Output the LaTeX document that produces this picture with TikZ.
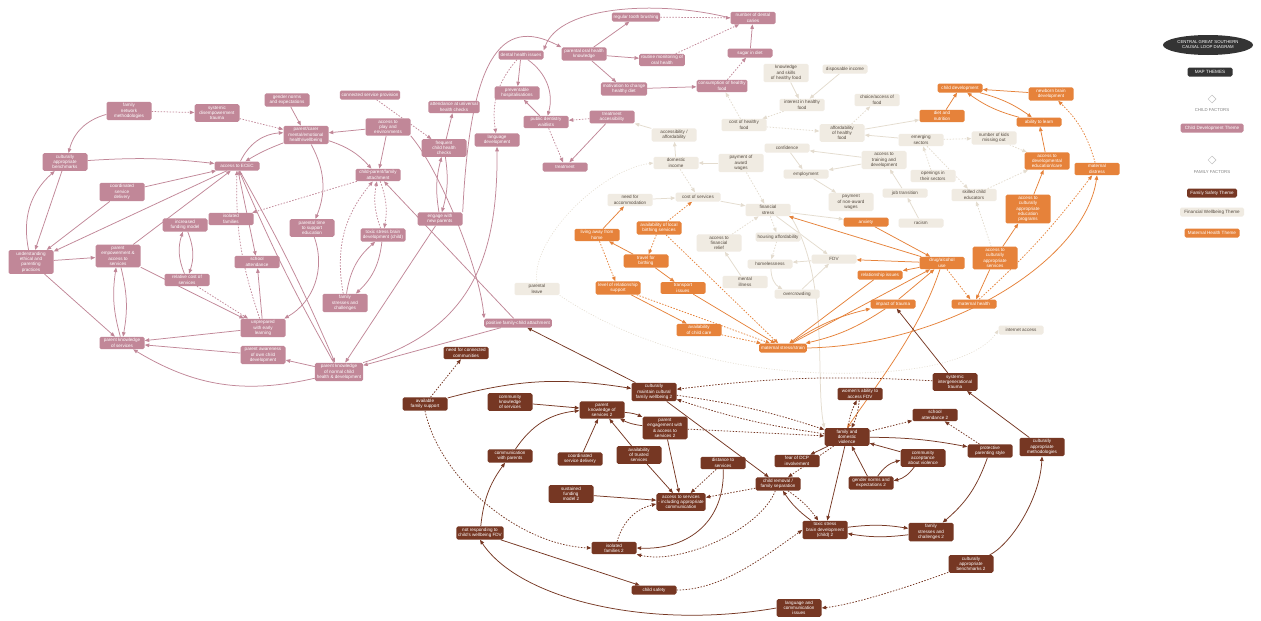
\documentclass[tikz,border=0pt]{standalone}
\usepackage{fontspec}
\setmainfont{Liberation Sans}
\usetikzlibrary{arrows.meta,shapes.geometric}
\pgfdeclarelayer{background}
\pgfsetlayers{background,main}
\definecolor{pinkc}{RGB}{193,135,152}
\definecolor{brownc}{RGB}{118,55,35}
\definecolor{orangec}{RGB}{230,130,58}
\definecolor{beigec}{RGB}{240,235,226}
\definecolor{beigetext}{RGB}{85,75,65}
\definecolor{beigeline}{RGB}{228,220,207}
\definecolor{legdark}{RGB}{52,52,52}
\tikzset{
  box/.style={rectangle, rounded corners=1.6pt, align=center, inner sep=1.8pt,
    minimum width=45pt, minimum height=9pt, font=\fontsize{4.6}{5.3}\selectfont},
  pk/.style={box, fill=pinkc, text=white},
  bg/.style={box, fill=beigec, text=beigetext},
  orn/.style={box, fill=orangec, text=white},
  br/.style={box, fill=brownc, text=white},
  ln/.style={line width=0.75pt, -{Triangle[length=4.5pt,width=3.6pt]}},
  dsh/.style={dash pattern=on 1.5pt off 1.5pt},
  faint/.style={line width=0.6pt, beigeline, dash pattern=on 1pt off 1.6pt, -{Triangle[length=4pt,width=3.2pt]}},
  pkl/.style={ln, pinkc},
  bgl/.style={ln, beigeline},
  orl/.style={ln, orangec},
  brl/.style={ln, brownc},
  leglabel/.style={font=\fontsize{4.3}{5}\selectfont, text=gray},
}
\begin{document}
\begin{tikzpicture}[x=1pt,y=-1pt]
\path[use as bounding box] (0,0) rectangle (1261,621);
\begin{pgfonlayer}{background}
\fill[white] (0,0) rectangle (1261,621);
\end{pgfonlayer}

% ---------- child development theme ----------
\node[pk] (fnm) at (129,111) {family\\network\\methodologies};
\node[pk] (sdt) at (217,113) {systemic\\disempowerment\\trauma};
\node[pk] (gne) at (287,100) {gender norms\\and expectations};
\node[pk] (pmh) at (306,135) {parent/carer\\mental/emotional\\health/wellbeing};
\node[pk] (cab) at (65,162) {culturally\\appropriate\\benchmarks};
\node[pk] (ecec) at (237,166) {access to ECEC};
\node[pk] (csd) at (122,192) {coordinated\\service\\delivery};
\node[pk] (iso) at (231,219) {isolated\\families};
\node[pk] (ifm) at (185,225) {increased\\funding model};
\node[pk] (uep) at (31,262) {understanding\\ethical and\\parenting\\practices};
\node[pk] (pea) at (118,256) {parent\\empowerment \&\\access to\\services};
\node[pk] (sch) at (257,262) {school\\attendance};
\node[pk] (rcs) at (187,280) {relative cost of\\services};
\node[pk] (pts) at (312,228) {parental time\\to support\\education};
\node[pk] (csp) at (370,95) {connected service provision};
\node[pk] (ape) at (388,127) {access to\\play and\\environments};
\node[pk] (cpa) at (378,175) {child-parent/family\\attachment};
\node[pk] (auh) at (454,107) {attendance at universal\\health checks};
\node[pk] (fch) at (444,148) {frequent\\child health\\checks};
\node[pk] (enp) at (440,219) {engage with\\new parents};
\node[pk] (lang) at (497,140) {language\\development};
\node[pk] (tsb) at (383,235) {toxic stress brain\\development (child)};
\node[pk] (fsc) at (345,303) {family\\stresses and\\challenges};
\node[pk] (uel) at (263,328) {unprepared\\with early\\learning};
\node[pk] (pks) at (122,343) {parent knowledge\\of services};
\node[pk] (pao) at (263,355) {parent awareness\\of own child\\development};
\node[pk] (pkn) at (339,372) {parent knowledge\\of normal child\\health \& development};
\node[pk] (rtb) at (636,17) {regular tooth brushing};
\node[pk] (ndc) at (753,18) {number of dental\\caries};
\node[pk] (dhi) at (521,55) {dental health issues};
\node[pk] (pohk) at (584,54) {parental oral health\\knowledge};
\node[pk] (rmo) at (662,60) {routine monitoring of\\oral health};
\node[pk] (sug) at (750,53) {sugar in diet};
\node[pk] (mcd) at (624,89) {motivation to change\\healthy diet};
\node[pk] (chf) at (722,86) {consumption of healthy\\food};
\node[pk] (phos) at (517,93) {preventable\\hospitalisations};
\node[pk] (pdw) at (546,122) {public dentistry\\waitlists};
\node[pk] (tacc) at (612,117) {treatment\\accessibility};
\node[pk] (treat) at (565,167) {treatment};
\node[pk] (pfca) at (518,323) {positive family-child attachment};

% ---------- financial wellbeing theme ----------
\node[bg] (afd) at (674,135) {accessibility /\\affordability};
\node[bg] (dinc) at (676,163) {domestic\\income};
\node[bg] (paw) at (741,163) {payment of\\award\\wages};
\node[bg] (ksh) at (786,73) {knowledge\\and skills\\of healthy food};
\node[bg] (dsi) at (845,69) {disposable income};
\node[bg] (ihf) at (802,105) {interest in healthy\\food};
\node[bg] (cof) at (877,100) {choice/access of\\food};
\node[bg] (cohf) at (744,125) {cost of healthy\\food};
\node[bg] (ahf) at (842,133) {affordability\\of healthy\\food};
\node[bg] (conf) at (787,148) {confidence};
\node[bg] (empl) at (806,174) {employment};
\node[bg] (atd) at (884,160) {access to\\training and\\development};
\node[bg] (emg) at (921,140) {emerging\\sectors};
\node[bg] (pnaw) at (851,202) {payment\\of non-award\\wages};
\node[bg] (opn) at (933,176) {openings in\\their sectors};
\node[bg] (jtr) at (905,193) {job transition};
\node[bg] (rac) at (921,223) {racism};
\node[bg] (fstr) at (768,210) {financial\\stress};
\node[bg] (nfa) at (630,200) {need for\\accommodation};
\node[bg] (cos) at (698,197) {cost of services};
\node[bg] (afr) at (719,243) {access to\\financial\\relief};
\node[bg] (hous) at (778,237) {housing affordability};
\node[bg] (fdvb) at (834,259) {FDV};
\node[bg] (hml) at (770,264) {homelessness};
\node[bg] (mill) at (745,282) {mental\\illness};
\node[bg] (ovc) at (797,294) {overcrowding};
\node[bg] (nkm) at (994,138) {number of kids\\missing out};
\node[bg] (sce) at (974,195) {skilled child\\educators};
\node[bg] (plv) at (537,289) {parental\\leave};
\node[bg] (inet) at (1021,330) {internet access};

% ---------- maternal health theme ----------
\node[orn] (cdev) at (960,88) {child development};
\node[orn] (nbd) at (1051,94) {newborn brain\\development};
\node[orn] (dn) at (942,116) {diet and\\nutrition};
\node[orn] (abl) at (1039,122) {ability to learn};
\node[orn] (adc) at (1047,161) {access to\\developmental\\education/care};
\node[orn] (mdis) at (1097,169) {maternal\\distress};
\node[orn] (acae) at (1028,209) {access to\\culturally\\appropriate\\education\\programs};
\node[orn] (acs) at (995,258) {access to\\culturally\\appropriate\\services};
\node[orn] (drug) at (942,263) {drug/alcohol\\use};
\node[orn] (mh) at (974,304) {maternal health};
\node[orn] (imp) at (893,304) {impact of trauma};
\node[orn] (rel) at (880,275) {relationship issues};
\node[orn] (anx) at (866,222) {anxiety};
\node[orn] (mstr) at (783,348) {maternal stress/strain};
\node[orn] (avcc) at (699,330) {availability\\of child care};
\node[orn] (tri) at (683,288) {transport\\issues};
\node[orn] (lrs) at (618,288) {level of relationship\\support};
\node[orn] (tfb) at (646,261) {travel for\\birthing};
\node[orn] (lafh) at (597,235) {living away from\\home};
\node[orn] (albs) at (659,228) {availability of local\\birthing services};

% ---------- family safety theme ----------
\node[br] (ncc) at (466,353) {need for connected\\communities};
\node[br] (afs) at (425,404) {available\\family support};
\node[br] (cmcw) at (654,392) {culturally\\maintain cultural\\family wellbeing 2};
\node[br] (cks) at (510,402) {community\\knowledge\\of services};
\node[br] (pks2) at (602,410) {parent\\knowledge of\\services 2};
\node[br] (pe2) at (665,428) {parent\\engagement with\\\& access to\\services 2};
\node[br] (comm) at (510,456) {communication\\with parents};
\node[br] (csd2) at (580,459) {coordinated\\service delivery};
\node[br] (ats) at (639,455) {availability\\of trusted\\services};
\node[br] (sfm) at (571,494) {sustained\\funding\\model 2};
\node[br] (acc) at (681,502) {access to services\\- including appropriate\\communication};
\node[br] (dts) at (723,463) {distance to\\services};
\node[br] (sit) at (955,382) {systemic\\intergenerational\\trauma};
\node[br] (wafdv) at (860,394) {women's ability to\\access FDV};
\node[br] (sa2) at (935,415) {school\\attendance 2};
\node[br] (fdv) at (847,437) {family and\\domestic\\violence};
\node[br] (pps) at (990,451) {protective\\parenting style};
\node[br] (cam) at (1042,447) {culturally\\appropriate\\methodologies};
\node[br] (fear) at (797,461) {fear of DCP\\involvement};
\node[br] (cav) at (923,458) {community\\acceptance\\about violence};
\node[br] (gne2) at (871,483) {gender norms and\\expectations 2};
\node[br] (crm) at (778,484) {child removal /\\family separation};
\node[br] (tsb2) at (825,530) {toxic stress\\brain development\\(child) 2};
\node[br] (fsc2) at (931,532) {family\\stresses and\\challenges 2};
\node[br] (cab2) at (971,564) {culturally\\appropriate\\benchmarks 2};
\node[br] (cs) at (654,590) {child safety};
\node[br] (isof2) at (614,548) {isolated\\families 2};
\node[br] (nrc) at (480,533) {not responding to\\child's wellbeing FDV};
\node[br] (lcs) at (799,608) {language and\\communication\\issues};

% ---------- legend ----------
\node[ellipse, fill=legdark, text=white, minimum width=90pt, minimum height=20pt,
  inner sep=0pt, align=center, font=\fontsize{4.3}{5}\selectfont] (ttl) at (1208,45)
  {CENTRAL GREAT SOUTHERN\\CAUSAL LOOP DIAGRAM};
\node[box, fill=legdark, text=white] (mth) at (1210,72) {MAP THEMES};
\node[diamond, draw=gray!50, line width=0.5pt, minimum size=8pt, inner sep=0pt] (dch) at (1212,99) {};
\node[leglabel] (cft) at (1212,110) {CHILD FACTORS};
\node[pk, minimum width=63pt] (lcd) at (1212,128) {Child Development Theme};
\node[diamond, draw=gray!50, line width=0.5pt, minimum size=8pt, inner sep=0pt] (dfm) at (1212,160) {};
\node[leglabel] (fft) at (1212,172) {FAMILY FACTORS};
\node[br, minimum width=50pt] (lfs) at (1212,193) {Family Safety Theme};
\node[bg, minimum width=64pt] (lfw) at (1212,212) {Financial Wellbeing Theme};
\node[orn, minimum width=55pt] (lmh) at (1212,233) {Maternal Health Theme};

\begin{pgfonlayer}{background}
% long faint links
\draw[faint] (plv.north) .. controls (530,240) and (600,170) .. (dinc.west);
\draw[faint] (plv.south east) .. controls (640,350) and (760,380) .. (880,372)
  .. controls (950,368) and (985,350) .. (inet.west);

% child development links
\draw[pkl] (fnm) to[bend right=30] (cab);
\draw[pkl,dsh] (fnm) -- (sdt);
\draw[pkl,dsh] (sdt) -- (pmh);
\draw[pkl] (gne) -- (pmh);
\draw[pkl] (cab) to[bend left=5] (ecec);
\draw[pkl] (pmh) to[bend right=5] (ecec);
\draw[pkl] (ecec) to[bend left=30] (pmh);
\draw[pkl] (csd) -- (ecec);
\draw[pkl] (csd) -- (uep);
\draw[pkl] (cab) -- (uep);
\draw[pkl] (uep) to[bend left=30] (cab);
\draw[pkl] (uep) -- (pea);
\draw[pkl] (ecec) -- (uep);
\draw[pkl] (pea) -- (ecec);
\draw[pkl] (ifm) to[bend left=20] (rcs);
\draw[pkl] (rcs) to[bend left=20] (ifm);
\draw[pkl,dsh] (cpa) -- (iso);
\draw[pkl] (ecec) -- (sch);
\draw[pkl] (uel) -- (sch);
\draw[pkl,dsh] (uel) to[bend left=10] (ecec);
\draw[pkl,dsh] (rcs) -- (uel);
\draw[pkl] (pmh) to[bend left=15] (cpa);
\draw[pkl] (ape) -- (pmh);
\draw[pkl] (ape) -- (cpa);
\draw[pkl] (pmh) to[bend left=25] (pts);
\draw[pkl] (pts) to[bend left=40] (uel);
\draw[pkl,dsh] (csp) -- (fch);
\draw[pkl] (fch) to[bend left=12] (enp);
\draw[pkl] (enp) to[bend left=12] (fch);
\draw[pkl] (fch) -- (auh);
\draw[pkl] (enp.north east) .. controls (470,60) and (500,15) .. (pohk.north west);
\draw[pkl] (ndc.west) .. controls (660,0) and (560,5) .. (dhi.north east);
\draw[pkl] (dhi) -- (phos);
\draw[pkl] (dhi) to[bend left=35] (pdw);
\draw[pkl] (pdw) -- (phos);
\draw[pkl,dsh] (dhi) to[bend right=25] (lang);
\draw[pkl,dsh] (pdw) -- (treat);
\draw[pkl,dsh] (tacc) -- (pdw);
\draw[pkl] (tacc) -- (treat);
\draw[pkl] (pohk) -- (rtb);
\draw[pkl] (pohk) -- (rmo);
\draw[pkl] (pohk) -- (mcd);
\draw[pkl,dsh] (rtb) -- (ndc);
\draw[pkl,dsh] (rmo) -- (ndc);
\draw[pkl] (mcd) -- (chf);
\draw[pkl,dsh] (chf) -- (sug);
\draw[pkl] (sug) -- (ndc);
\draw[pkl] (pkn.north east) .. controls (470,330) and (498,260) .. (lang.south);
\draw[pkl] (enp) -- (pkn);
\draw[pkl] (pfca) -- (pkn);
\draw[pkl] (pfca) -- (cpa);
\draw[pkl] (ape.south east) .. controls (440,170) and (480,270) .. (pfca.north west);
\draw[pkl] (pkn) -- (pao);
\draw[pkl] (pao) -- (pks);
\draw[pkl] (pkn) to[bend left=22] (pks);
\draw[pkl] (uel) -- (pks);
\draw[pkl] (pea) to[bend left=12] (pks);
\draw[pkl] (pks) to[bend left=12] (pea);
\draw[pkl] (uep) -- (pks);
\draw[pkl] (pea) -- (uel);
\draw[pkl] (ecec) to[bend left=3] (pkn);
\draw[pkl] (pkn) to[bend left=3] (ecec);
\draw[pkl,dsh] (tsb) to[bend left=15] (cpa);
\draw[pkl,dsh] (cpa) to[bend left=15] (tsb);
\draw[pkl,dsh] (fsc) to[bend left=25] (cpa);
\draw[pkl] (fsc) to[bend left=20] (tsb);
\draw[pkl] (tsb) to[bend left=20] (fsc);

% financial wellbeing links
\draw[bgl] (dinc) -- (afd);
\draw[bgl] (afd) -- (tacc);
\draw[bgl] (paw) -- (dinc);
\draw[bgl,dsh] (dinc) -- (cos);
\draw[bgl,dsh] (paw) -- (fstr);
\draw[bgl] (nfa) -- (cos);
\draw[bgl] (cos) -- (fstr);
\draw[bgl] (fstr) -- (anx);
\draw[bgl] (fstr) -- (fdvb);
\draw[bgl,dsh] (fstr) -- (hous);
\draw[bgl,dsh] (afr) -- (fstr);
\draw[bgl,dsh] (hous) -- (hml);
\draw[bgl] (mill) -- (afr);
\draw[bgl] (ovc) -- (fdvb);
\draw[bgl] (hml) to[bend right=30] (ovc);
\draw[bgl] (fdvb) -- (hml);
\draw[bgl,dsh] (cohf) -- (chf);
\draw[bgl] (ksh) -- (ihf);
\draw[bgl] (dsi) -- (ihf);
\draw[bgl,dsh] (ihf) -- (cohf);
\draw[bgl,dsh] (ahf) -- (cof);
\draw[bgl] (ahf) -- (dn);
\draw[bgl,dsh] (cohf) -- (ahf);
\draw[bgl] (emg) -- (ahf);
\draw[bgl] (atd) -- (conf);
\draw[bgl] (conf) -- (empl);
\draw[bgl] (atd) -- (empl);
\draw[bgl] (empl) -- (pnaw);
\draw[bgl] (jtr) -- (atd);
\draw[bgl] (rac) -- (jtr);
\draw[bgl,dsh] (opn) -- (emg);
\draw[bgl,dsh] (emg) -- (nkm);
\draw[bgl,dsh] (nkm) -- (adc);
\draw[bgl,dsh] (sce) -- (adc);
\draw[bgl,dsh] (emg) -- (sce);
\draw[bgl,dsh] (acs) -- (sce);
\draw[bgl] (fstr.south east) .. controls (830,280) and (815,380) .. (fdv.north west);

% maternal health links
\draw[orl] (dn) -- (cdev);
\draw[orl] (cdev) to[bend left=10] (abl);
\draw[orl] (abl) to[bend left=10] (cdev);
\draw[orl] (nbd) -- (cdev);
\draw[orl] (adc) -- (abl);
\draw[orl] (acae) -- (adc);
\draw[orl] (acs) -- (acae);
\draw[orl] (acs) -- (mh);
\draw[orl,dsh] (drug) -- (mh);
\draw[orl,dsh] (mdis) to[bend right=15] (nbd);
\draw[orl,dsh] (mh) to[bend right=5] (mdis);
\draw[orl] (mstr.east) .. controls (950,345) and (1085,260) .. (mdis.south);
\draw[orl] (drug) -- (rel);
\draw[orl] (imp) -- (drug);
\draw[orl] (rel) -- (mstr);
\draw[orl] (mstr) to[bend left=10] (imp);
\draw[orl] (imp) to[bend left=10] (mstr);
\draw[orl] (mstr) -- (drug);
\draw[orl] (drug) .. controls (920,330) and (880,380) .. (fdv.north);
\draw[orl] (anx) -- (drug);
\draw[orl] (drug) -- (fdvb);
\draw[orl] (drug) -- (fstr);
\draw[orl] (lafh) -- (nfa);
\draw[orl] (tfb) -- (lafh);
\draw[orl,dsh] (albs) -- (cos);
\draw[orl,dsh] (albs) -- (tfb);
\draw[orl,dsh] (lafh) -- (lrs);
\draw[orl] (tfb) -- (tri);
\draw[orl] (lrs) -- (avcc);
\draw[orl,dsh] (lrs) -- (mstr);
\draw[orl] (tri) -- (mstr);
\draw[orl,dsh] (albs) -- (mstr);
\draw[orl,dsh] (avcc) -- (mstr);

% family safety links
\draw[brl] (sit) -- (imp);
\draw[brl] (cmcw) -- (pfca);
\draw[brl] (afs) to[bend left=12] (cmcw);
\draw[brl,dsh] (afs) -- (ncc);
\draw[brl,dsh] (afs.south) .. controls (440,480) and (520,545) .. (isof2.west);
\draw[brl] (cks) -- (pks2);
\draw[brl] (comm) to[bend left=25] (pks2);
\draw[brl] (nrc) to[bend left=15] (comm);
\draw[brl] (csd2) -- (pks2);
\draw[brl] (ats) -- (pks2);
\draw[brl] (pks2) to[bend left=10] (pe2);
\draw[brl] (pe2) to[bend left=10] (pks2);
\draw[brl] (ats) -- (acc);
\draw[brl] (pe2) -- (acc);
\draw[brl] (sfm) -- (acc);
\draw[brl,dsh] (dts) -- (acc);
\draw[brl,dsh] (crm) -- (acc);
\draw[brl] (dts) .. controls (725,520) and (690,550) .. (isof2.east);
\draw[brl,dsh] (isof2) to[bend left=30] (acc);
\draw[brl] (nrc) -- (cs);
\draw[brl] (lcs.west) .. controls (650,630) and (520,600) .. (nrc.south);
\draw[brl,dsh] (cab2) .. controls (900,590) and (850,605) .. (lcs.east);
\draw[brl] (cab2) .. controls (1010,545) and (1040,500) .. (cam.south);
\draw[brl,dsh] (crm) .. controls (760,530) and (680,565) .. (isof2.south east);
\draw[brl,dsh] (cs.east) .. controls (720,590) and (760,560) .. (tsb2.west);
\draw[brl,dsh] (fdv) to[bend left=10] (wafdv);
\draw[brl,dsh] (wafdv) to[bend left=10] (fdv);
\draw[brl,dsh] (fdv) -- (sa2);
\draw[brl] (fdv) to[bend left=5] (pps);
\draw[brl,dsh] (pps) -- (sa2);
\draw[brl] (pps) to[bend left=15] (fsc2);
\draw[brl] (cav) -- (fdv);
\draw[brl] (gne2) -- (fdv);
\draw[brl] (gne2) to[bend left=20] (cav);
\draw[brl] (cav) to[bend left=20] (gne2);
\draw[brl] (fdv) -- (fear);
\draw[brl,dsh] (fdv) -- (crm);
\draw[brl] (fdv) -- (tsb2);
\draw[brl,dsh] (crm) to[bend left=10] (tsb2);
\draw[brl] (tsb2) to[bend left=10] (crm);
\draw[brl] (tsb2) to[bend left=8] (fsc2);
\draw[brl] (fsc2) to[bend left=8] (tsb2);
\draw[brl] (cam) -- (sit);
\draw[brl,dsh] (sit) to[bend right=5] (cmcw);
\draw[brl] (cmcw) -- (crm);
\draw[brl,dsh] (cmcw) to[bend left=5] (fdv);
\draw[brl,dsh] (fdv) to[bend left=5] (cmcw);
\draw[brl,dsh] (pe2) -- (fdv);
\end{pgfonlayer}
\end{tikzpicture}
\end{document}
